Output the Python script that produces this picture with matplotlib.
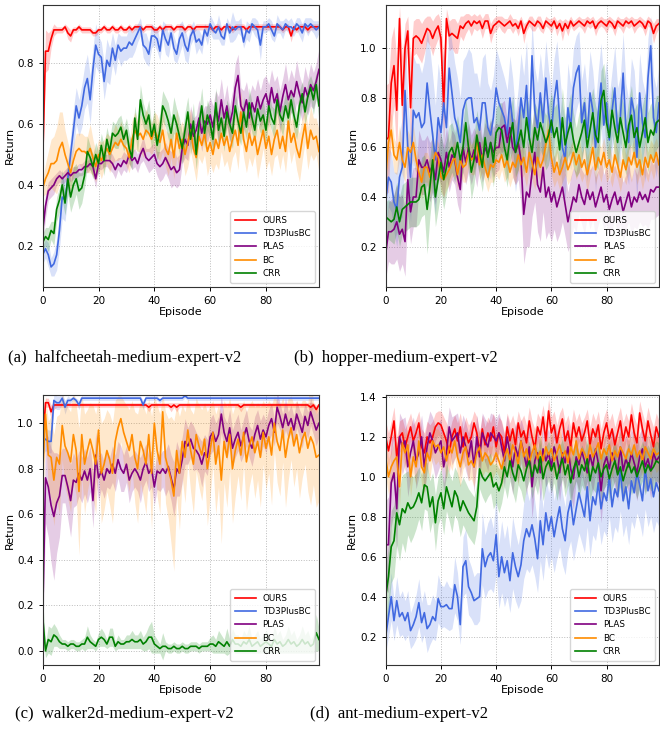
import matplotlib
matplotlib.use("Agg")
import matplotlib.pyplot as plt
import numpy as np

# episodes 0..99
episodes = list(range(100))
names = ["OURS", "TD3PlusBC", "PLAS", "BC", "CRR"]
colors = ["red", "royalblue", "purple", "darkorange", "green"]

# ---------------- (a) halfcheetah ----------------
ours_a = [0.48, 0.84, 0.84, 0.88, 0.91, 0.91, 0.91, 0.91, 0.92, 0.90,
          0.89, 0.91, 0.91, 0.92, 0.91, 0.91, 0.91, 0.91, 0.90, 0.90,
          0.91, 0.91, 0.92, 0.91, 0.91, 0.92, 0.91, 0.91, 0.92, 0.91,
          0.91, 0.92, 0.91, 0.92, 0.92, 0.92, 0.91, 0.92, 0.92, 0.92,
          0.91, 0.91, 0.92, 0.91, 0.92, 0.92, 0.92, 0.91, 0.92, 0.92,
          0.92, 0.91, 0.92, 0.92, 0.91, 0.92, 0.92, 0.92, 0.92, 0.92,
          0.92, 0.91, 0.92, 0.92, 0.91, 0.92, 0.92, 0.92, 0.91, 0.92,
          0.92, 0.92, 0.92, 0.91, 0.92, 0.92, 0.92, 0.92, 0.92, 0.92,
          0.92, 0.92, 0.92, 0.92, 0.92, 0.92, 0.91, 0.92, 0.92, 0.89,
          0.92, 0.91, 0.92, 0.92, 0.92, 0.91, 0.92, 0.92, 0.92, 0.92]
ours_a_sd = [0.05, 0.07, 0.06, 0.03, 0.02, 0.01, 0.01, 0.01, 0.01, 0.02,
             0.02, 0.01, 0.01, 0.01, 0.01, 0.01, 0.01, 0.01, 0.01, 0.01,
             0.01, 0.01, 0.01, 0.01, 0.01, 0.01, 0.01, 0.01, 0.01, 0.01,
             0.01, 0.01, 0.01, 0.01, 0.01, 0.01, 0.01, 0.01, 0.01, 0.01,
             0.01, 0.01, 0.01, 0.01, 0.01, 0.01, 0.01, 0.01, 0.01, 0.01,
             0.01, 0.01, 0.01, 0.01, 0.01, 0.01, 0.01, 0.01, 0.01, 0.01,
             0.01, 0.01, 0.01, 0.01, 0.01, 0.01, 0.01, 0.01, 0.01, 0.01,
             0.01, 0.01, 0.01, 0.01, 0.01, 0.01, 0.01, 0.01, 0.01, 0.01,
             0.01, 0.01, 0.01, 0.01, 0.01, 0.01, 0.01, 0.01, 0.01, 0.02,
             0.01, 0.01, 0.01, 0.01, 0.01, 0.01, 0.01, 0.01, 0.01, 0.01]
td3_a = [0.17, 0.19, 0.17, 0.13, 0.14, 0.17, 0.25, 0.36, 0.35, 0.42,
         0.50, 0.58, 0.66, 0.62, 0.66, 0.72, 0.75, 0.68, 0.78, 0.86,
         0.83, 0.82, 0.74, 0.81, 0.79, 0.85, 0.81, 0.86, 0.84, 0.85,
         0.85, 0.87, 0.86, 0.88, 0.90, 0.92, 0.86, 0.85, 0.83, 0.89,
         0.89, 0.88, 0.84, 0.91, 0.88, 0.86, 0.90, 0.85, 0.83, 0.88,
         0.90, 0.86, 0.84, 0.89, 0.91, 0.87, 0.88, 0.86, 0.91, 0.89,
         0.93, 0.91, 0.90, 0.92, 0.89, 0.88, 0.93, 0.90, 0.92, 0.91,
         0.92, 0.92, 0.87, 0.91, 0.90, 0.93, 0.92, 0.91, 0.86, 0.92,
         0.92, 0.93, 0.91, 0.89, 0.93, 0.92, 0.91, 0.93, 0.92, 0.92,
         0.91, 0.93, 0.92, 0.90, 0.93, 0.92, 0.93, 0.92, 0.91, 0.92]
td3_a_sd = [0.03, 0.03, 0.04, 0.03, 0.04, 0.05, 0.06, 0.07, 0.07, 0.06,
            0.06, 0.07, 0.06, 0.06, 0.07, 0.07, 0.08, 0.08, 0.07, 0.07,
            0.06, 0.05, 0.06, 0.07, 0.06, 0.05, 0.05, 0.04, 0.05, 0.04,
            0.04, 0.05, 0.04, 0.04, 0.03, 0.03, 0.04, 0.05, 0.04, 0.04,
            0.03, 0.04, 0.03, 0.03, 0.05, 0.04, 0.03, 0.04, 0.03, 0.05,
            0.04, 0.05, 0.04, 0.03, 0.03, 0.04, 0.03, 0.03, 0.02, 0.03,
            0.03, 0.03, 0.02, 0.04, 0.03, 0.02, 0.02, 0.03, 0.05, 0.03,
            0.02, 0.03, 0.02, 0.03, 0.03, 0.02, 0.03, 0.03, 0.05, 0.02,
            0.02, 0.02, 0.03, 0.02, 0.03, 0.02, 0.03, 0.02, 0.02, 0.03,
            0.02, 0.02, 0.03, 0.03, 0.02, 0.03, 0.02, 0.02, 0.03, 0.02]
plas_a = [0.25, 0.33, 0.38, 0.39, 0.40, 0.42, 0.43, 0.42, 0.43, 0.44,
          0.43, 0.44, 0.44, 0.45, 0.45, 0.46, 0.46, 0.47, 0.46, 0.42,
          0.47, 0.47, 0.48, 0.48, 0.48, 0.47, 0.45, 0.47, 0.46, 0.48,
          0.47, 0.50, 0.48, 0.49, 0.47, 0.50, 0.52, 0.49, 0.48, 0.49,
          0.50, 0.47, 0.46, 0.47, 0.49, 0.47, 0.45, 0.46, 0.44, 0.45,
          0.52, 0.55, 0.53, 0.60, 0.56, 0.58, 0.62, 0.57, 0.61, 0.60,
          0.63, 0.59, 0.65, 0.61, 0.68, 0.62, 0.66, 0.60, 0.64, 0.72,
          0.76, 0.66, 0.64, 0.68, 0.62, 0.67, 0.64, 0.69, 0.65, 0.68,
          0.70, 0.66, 0.72, 0.67, 0.70, 0.64, 0.69, 0.73, 0.68, 0.71,
          0.69, 0.74, 0.70, 0.67, 0.72, 0.69, 0.73, 0.71, 0.74, 0.78]
plas_a_sd = [0.04, 0.04, 0.03, 0.03, 0.03, 0.02, 0.02, 0.02, 0.02, 0.02,
             0.02, 0.02, 0.02, 0.02, 0.02, 0.02, 0.02, 0.02, 0.03, 0.03,
             0.02, 0.02, 0.02, 0.02, 0.03, 0.03, 0.03, 0.02, 0.03, 0.03,
             0.03, 0.03, 0.03, 0.03, 0.03, 0.03, 0.04, 0.03, 0.04, 0.04,
             0.04, 0.04, 0.05, 0.05, 0.05, 0.05, 0.06, 0.06, 0.05, 0.05,
             0.05, 0.06, 0.05, 0.06, 0.06, 0.05, 0.06, 0.06, 0.05, 0.06,
             0.06, 0.07, 0.06, 0.08, 0.07, 0.06, 0.07, 0.06, 0.07, 0.08,
             0.07, 0.06, 0.07, 0.06, 0.07, 0.06, 0.07, 0.06, 0.06, 0.07,
             0.06, 0.07, 0.06, 0.07, 0.06, 0.07, 0.06, 0.07, 0.06, 0.07,
             0.06, 0.07, 0.06, 0.06, 0.07, 0.06, 0.07, 0.06, 0.06, 0.07]
bc_a = [0.39, 0.42, 0.44, 0.47, 0.47, 0.48, 0.52, 0.54, 0.50, 0.47,
        0.44, 0.48, 0.51, 0.52, 0.51, 0.51, 0.50, 0.52, 0.49, 0.46,
        0.50, 0.48, 0.50, 0.52, 0.50, 0.52, 0.54, 0.53, 0.55, 0.53,
        0.52, 0.49, 0.55, 0.58, 0.56, 0.57, 0.55, 0.58, 0.57, 0.55,
        0.58, 0.56, 0.54, 0.58, 0.52, 0.50, 0.55, 0.49, 0.57, 0.52,
        0.55, 0.50, 0.54, 0.58, 0.52, 0.49, 0.56, 0.53, 0.57, 0.51,
        0.54, 0.50, 0.55, 0.52, 0.57, 0.53, 0.56, 0.51, 0.55, 0.58,
        0.53, 0.64, 0.55, 0.51, 0.57, 0.53, 0.56, 0.50, 0.54, 0.58,
        0.52, 0.56, 0.50, 0.55, 0.58, 0.52, 0.56, 0.51, 0.61, 0.54,
        0.57, 0.52, 0.49, 0.55, 0.60, 0.52, 0.58, 0.55, 0.56, 0.51]
bc_a_sd = [0.03, 0.05, 0.07, 0.08, 0.09, 0.11, 0.12, 0.10, 0.08, 0.07,
           0.06, 0.05, 0.06, 0.05, 0.06, 0.05, 0.06, 0.08, 0.06, 0.05,
           0.05, 0.06, 0.05, 0.05, 0.06, 0.05, 0.06, 0.05, 0.06, 0.05,
           0.06, 0.05, 0.06, 0.06, 0.05, 0.06, 0.06, 0.07, 0.06, 0.05,
           0.06, 0.07, 0.06, 0.07, 0.06, 0.07, 0.06, 0.07, 0.08, 0.07,
           0.06, 0.07, 0.08, 0.07, 0.06, 0.08, 0.07, 0.06, 0.07, 0.08,
           0.07, 0.06, 0.08, 0.07, 0.06, 0.07, 0.08, 0.07, 0.06, 0.07,
           0.08, 0.07, 0.06, 0.07, 0.08, 0.07, 0.06, 0.08, 0.07, 0.06,
           0.07, 0.08, 0.07, 0.06, 0.08, 0.07, 0.06, 0.07, 0.08, 0.07,
           0.06, 0.07, 0.08, 0.07, 0.06, 0.07, 0.08, 0.07, 0.06, 0.07]
crr_a = [0.21, 0.23, 0.22, 0.25, 0.24, 0.32, 0.35, 0.40, 0.34, 0.42,
         0.36, 0.40, 0.42, 0.38, 0.39, 0.43, 0.51, 0.49, 0.46, 0.50,
         0.47, 0.53, 0.48, 0.55, 0.51, 0.57, 0.56, 0.57, 0.59, 0.55,
         0.58, 0.52, 0.49, 0.62, 0.55, 0.68, 0.63, 0.60, 0.63, 0.56,
         0.60, 0.53, 0.58, 0.66, 0.64, 0.61, 0.57, 0.63, 0.60, 0.56,
         0.52, 0.58, 0.64, 0.55, 0.61, 0.50, 0.60, 0.66, 0.57, 0.63,
         0.60, 0.55, 0.67, 0.58, 0.62, 0.56, 0.64, 0.60, 0.57, 0.66,
         0.61, 0.57, 0.64, 0.59, 0.67, 0.62, 0.58, 0.65, 0.61, 0.63,
         0.58, 0.66, 0.62, 0.60, 0.68, 0.63, 0.61, 0.66, 0.62, 0.68,
         0.63, 0.59, 0.66, 0.70, 0.64, 0.69, 0.72, 0.68, 0.73, 0.66]
crr_a_sd = [0.03, 0.03, 0.04, 0.03, 0.04, 0.04, 0.04, 0.05, 0.04, 0.05,
            0.05, 0.06, 0.05, 0.06, 0.05, 0.04, 0.05, 0.04, 0.04, 0.04,
            0.04, 0.04, 0.05, 0.04, 0.04, 0.04, 0.04, 0.05, 0.04, 0.04,
            0.04, 0.05, 0.04, 0.04, 0.05, 0.05, 0.04, 0.04, 0.05, 0.04,
            0.05, 0.05, 0.06, 0.05, 0.05, 0.06, 0.05, 0.06, 0.05, 0.06,
            0.05, 0.06, 0.05, 0.05, 0.06, 0.05, 0.05, 0.06, 0.05, 0.05,
            0.05, 0.04, 0.05, 0.05, 0.04, 0.05, 0.04, 0.05, 0.05, 0.04,
            0.05, 0.04, 0.05, 0.04, 0.05, 0.05, 0.04, 0.05, 0.04, 0.05,
            0.04, 0.05, 0.04, 0.05, 0.04, 0.04, 0.05, 0.04, 0.05, 0.04,
            0.05, 0.04, 0.05, 0.04, 0.04, 0.05, 0.04, 0.05, 0.04, 0.05]

# ---------------- (b) hopper ----------------
ours_b = [0.63, 0.64, 0.86, 0.93, 0.75, 1.12, 0.77, 1.00, 1.07, 0.76,
          1.04, 1.05, 1.04, 1.02, 1.05, 1.08, 1.07, 1.04, 1.07, 1.09,
          1.04, 0.76, 1.12, 1.05, 1.06, 1.05, 1.04, 1.09, 1.08, 1.10,
          1.11, 1.09, 1.11, 1.10, 1.11, 1.08, 1.11, 1.11, 1.06, 1.09,
          1.10, 1.11, 1.10, 1.09, 1.10, 1.11, 1.09, 1.10, 1.08, 1.11,
          1.06, 1.09, 1.11, 1.10, 1.09, 1.11, 1.10, 1.08, 1.11, 1.10,
          1.09, 1.11, 1.08, 1.10, 1.07, 1.10, 1.08, 1.11, 1.09, 1.10,
          1.11, 1.10, 1.09, 1.11, 1.10, 1.11, 1.08, 1.10, 1.11, 1.10,
          1.09, 1.11, 1.10, 1.08, 1.11, 1.10, 1.09, 1.11, 1.10, 1.11,
          1.09, 1.10, 1.11, 1.10, 1.08, 1.11, 1.10, 1.06, 1.09, 1.10]
ours_b_sd = [0.22, 0.22, 0.18, 0.16, 0.20, 0.05, 0.20, 0.10, 0.06, 0.20,
             0.07, 0.07, 0.08, 0.08, 0.07, 0.05, 0.06, 0.07, 0.06, 0.05,
             0.07, 0.20, 0.04, 0.06, 0.06, 0.07, 0.06, 0.04, 0.05, 0.04,
             0.03, 0.04, 0.03, 0.03, 0.03, 0.04, 0.03, 0.03, 0.04, 0.03,
             0.03, 0.02, 0.03, 0.03, 0.02, 0.03, 0.03, 0.02, 0.03, 0.02,
             0.04, 0.02, 0.02, 0.03, 0.02, 0.02, 0.03, 0.02, 0.02, 0.02,
             0.03, 0.02, 0.03, 0.02, 0.04, 0.02, 0.03, 0.02, 0.02, 0.02,
             0.02, 0.02, 0.03, 0.02, 0.02, 0.02, 0.03, 0.02, 0.02, 0.02,
             0.03, 0.02, 0.02, 0.03, 0.02, 0.02, 0.03, 0.02, 0.02, 0.02,
             0.03, 0.02, 0.02, 0.02, 0.03, 0.02, 0.02, 0.04, 0.03, 0.02]
td3_b = [0.38, 0.48, 0.46, 0.38, 0.35, 0.48, 0.52, 0.83, 0.60, 0.48,
         0.75, 0.72, 0.74, 0.68, 0.70, 0.86, 0.75, 0.65, 0.55, 0.72,
         0.66, 0.78, 0.68, 0.92, 0.82, 0.72, 0.68, 0.62, 0.75, 0.79,
         0.80, 0.80, 0.70, 0.72, 0.67, 0.78, 0.78, 0.68, 0.65, 0.72,
         0.84, 0.78, 0.75, 0.72, 0.65, 0.80, 0.70, 0.58, 0.67, 0.80,
         0.72, 0.85, 0.63, 0.97, 0.75, 0.68, 0.82, 0.70, 0.88, 0.74,
         0.66, 0.79, 0.87, 0.72, 0.60, 0.55, 0.76, 0.68, 0.84, 0.90,
         0.93, 0.70, 0.78, 0.64, 0.82, 0.75, 0.60, 0.74, 0.86, 0.69,
         0.78, 0.63, 0.75, 0.84, 0.66, 0.72, 0.90, 0.68, 0.62, 0.80,
         0.74, 0.56, 0.82, 0.70, 0.64, 0.88, 1.01, 0.72, 0.66, 0.78]
td3_b_sd = [0.10, 0.12, 0.12, 0.12, 0.15, 0.18, 0.20, 0.25, 0.20, 0.18,
            0.22, 0.22, 0.20, 0.22, 0.25, 0.22, 0.25, 0.24, 0.22, 0.22,
            0.20, 0.22, 0.20, 0.18, 0.20, 0.22, 0.20, 0.18, 0.20, 0.18,
            0.20, 0.18, 0.20, 0.18, 0.17, 0.18, 0.20, 0.18, 0.18, 0.17,
            0.16, 0.18, 0.17, 0.16, 0.18, 0.17, 0.18, 0.16, 0.17, 0.18,
            0.17, 0.18, 0.16, 0.14, 0.17, 0.18, 0.16, 0.17, 0.15, 0.17,
            0.18, 0.17, 0.16, 0.18, 0.17, 0.16, 0.18, 0.17, 0.16, 0.15,
            0.14, 0.17, 0.16, 0.18, 0.17, 0.16, 0.18, 0.17, 0.16, 0.18,
            0.17, 0.18, 0.16, 0.17, 0.18, 0.17, 0.16, 0.18, 0.17, 0.16,
            0.17, 0.18, 0.16, 0.17, 0.18, 0.16, 0.12, 0.17, 0.18, 0.16]
plas_b = [0.17, 0.26, 0.26, 0.27, 0.30, 0.25, 0.27, 0.22, 0.47, 0.34,
          0.40, 0.40, 0.55, 0.52, 0.52, 0.55, 0.50, 0.53, 0.47, 0.58,
          0.55, 0.50, 0.58, 0.52, 0.57, 0.55, 0.48, 0.43, 0.60, 0.54,
          0.60, 0.55, 0.59, 0.54, 0.62, 0.55, 0.60, 0.57, 0.62, 0.58,
          0.60, 0.60, 0.68, 0.69, 0.62, 0.68, 0.60, 0.58, 0.62, 0.55,
          0.33, 0.42, 0.40, 0.50, 0.58, 0.45, 0.42, 0.52, 0.40, 0.44,
          0.38, 0.42, 0.36, 0.40, 0.44, 0.37, 0.30, 0.35, 0.40, 0.38,
          0.45, 0.40, 0.37, 0.43, 0.39, 0.42, 0.36, 0.40, 0.44, 0.38,
          0.41, 0.35, 0.39, 0.42, 0.37, 0.40, 0.34, 0.38, 0.42, 0.36,
          0.40, 0.38, 0.42, 0.39, 0.41, 0.38, 0.43, 0.42, 0.44, 0.44]
plas_b_sd = [0.10, 0.12, 0.13, 0.14, 0.15, 0.15, 0.14, 0.14, 0.14, 0.13,
             0.12, 0.12, 0.12, 0.11, 0.11, 0.10, 0.12, 0.11, 0.10, 0.10,
             0.10, 0.11, 0.10, 0.10, 0.10, 0.10, 0.11, 0.10, 0.10, 0.09,
             0.10, 0.10, 0.09, 0.10, 0.10, 0.09, 0.10, 0.10, 0.09, 0.10,
             0.10, 0.09, 0.10, 0.10, 0.09, 0.10, 0.12, 0.13, 0.15, 0.18,
             0.20, 0.22, 0.20, 0.18, 0.20, 0.19, 0.20, 0.18, 0.17, 0.18,
             0.16, 0.15, 0.14, 0.15, 0.14, 0.13, 0.12, 0.13, 0.12, 0.12,
             0.12, 0.11, 0.12, 0.11, 0.12, 0.11, 0.12, 0.11, 0.12, 0.11,
             0.12, 0.11, 0.12, 0.11, 0.12, 0.11, 0.12, 0.11, 0.12, 0.11,
             0.12, 0.11, 0.12, 0.11, 0.12, 0.11, 0.12, 0.11, 0.12, 0.11]
bc_b = [0.48, 0.62, 0.67, 0.57, 0.55, 0.62, 0.55, 0.52, 0.60, 0.58,
        0.62, 0.55, 0.50, 0.46, 0.52, 0.52, 0.48, 0.53, 0.58, 0.56,
        0.48, 0.47, 0.49, 0.51, 0.54, 0.56, 0.49, 0.55, 0.52, 0.53,
        0.58, 0.55, 0.56, 0.62, 0.53, 0.57, 0.52, 0.48, 0.53, 0.52,
        0.55, 0.54, 0.57, 0.52, 0.55, 0.50, 0.54, 0.52, 0.57, 0.53,
        0.56, 0.50, 0.58, 0.54, 0.49, 0.56, 0.52, 0.55, 0.61, 0.67,
        0.56, 0.50, 0.54, 0.49, 0.52, 0.56, 0.51, 0.54, 0.58, 0.53,
        0.57, 0.52, 0.55, 0.49, 0.54, 0.60, 0.51, 0.56, 0.53, 0.58,
        0.52, 0.55, 0.50, 0.57, 0.53, 0.48, 0.55, 0.51, 0.56, 0.53,
        0.58, 0.52, 0.55, 0.49, 0.56, 0.52, 0.57, 0.54, 0.58, 0.53]
bc_b_sd = [0.08, 0.08, 0.07, 0.07, 0.06, 0.07, 0.06, 0.06, 0.07, 0.06,
           0.07, 0.06, 0.06, 0.07, 0.06, 0.06, 0.07, 0.06, 0.06, 0.06,
           0.06, 0.07, 0.06, 0.06, 0.06, 0.07, 0.06, 0.06, 0.06, 0.07,
           0.06, 0.06, 0.07, 0.06, 0.06, 0.07, 0.06, 0.06, 0.07, 0.06,
           0.06, 0.07, 0.06, 0.06, 0.07, 0.06, 0.06, 0.07, 0.06, 0.06,
           0.07, 0.06, 0.06, 0.07, 0.06, 0.07, 0.06, 0.06, 0.07, 0.08,
           0.07, 0.06, 0.07, 0.06, 0.06, 0.07, 0.06, 0.07, 0.06, 0.06,
           0.07, 0.06, 0.06, 0.07, 0.06, 0.07, 0.06, 0.06, 0.07, 0.06,
           0.06, 0.07, 0.06, 0.07, 0.06, 0.06, 0.07, 0.06, 0.06, 0.07,
           0.06, 0.07, 0.06, 0.06, 0.07, 0.06, 0.06, 0.07, 0.06, 0.06]
crr_b = [0.32, 0.31, 0.30, 0.31, 0.36, 0.30, 0.35, 0.36, 0.37, 0.38,
         0.38, 0.38, 0.39, 0.44, 0.45, 0.35, 0.44, 0.55, 0.40, 0.47,
         0.54, 0.47, 0.52, 0.58, 0.60, 0.56, 0.62, 0.55, 0.60, 0.70,
         0.60, 0.50, 0.55, 0.65, 0.58, 0.52, 0.64, 0.56, 0.62, 0.54,
         0.66, 0.68, 0.67, 0.60, 0.55, 0.64, 0.70, 0.58, 0.62, 0.67,
         0.60, 0.72, 0.64, 0.58, 0.68, 0.63, 0.70, 0.66, 0.62, 0.65,
         0.71, 0.64, 0.68, 0.59, 0.72, 0.61, 0.66, 0.70, 0.63, 0.58,
         0.62, 0.66, 0.71, 0.60, 0.67, 0.74, 0.65, 0.62, 0.79, 0.83,
         0.70, 0.64, 0.75, 0.68, 0.62, 0.72, 0.66, 0.60, 0.69, 0.73,
         0.64, 0.68, 0.60, 0.66, 0.72, 0.62, 0.67, 0.65, 0.70, 0.71]
crr_b_sd = [0.06, 0.08, 0.08, 0.10, 0.10, 0.10, 0.10, 0.10, 0.10, 0.10,
            0.10, 0.10, 0.10, 0.12, 0.12, 0.18, 0.12, 0.12, 0.12, 0.12,
            0.12, 0.12, 0.11, 0.11, 0.10, 0.10, 0.11, 0.10, 0.10, 0.10,
            0.10, 0.11, 0.10, 0.10, 0.10, 0.10, 0.11, 0.10, 0.10, 0.10,
            0.10, 0.10, 0.11, 0.10, 0.11, 0.10, 0.11, 0.10, 0.11, 0.10,
            0.11, 0.10, 0.12, 0.11, 0.10, 0.12, 0.11, 0.10, 0.11, 0.12,
            0.11, 0.12, 0.10, 0.11, 0.12, 0.11, 0.10, 0.12, 0.11, 0.10,
            0.12, 0.11, 0.10, 0.12, 0.11, 0.10, 0.12, 0.11, 0.12, 0.11,
            0.12, 0.11, 0.10, 0.12, 0.11, 0.10, 0.12, 0.11, 0.10, 0.12,
            0.11, 0.10, 0.12, 0.11, 0.10, 0.12, 0.11, 0.10, 0.11, 0.10]

# ---------------- (c) walker2d ----------------
ours_c = [0.90, 1.09, 1.09, 1.05, 1.08, 1.08, 1.08, 1.08, 1.08, 1.08,
          1.08, 1.08, 1.08, 1.08, 1.08, 1.08, 1.08, 1.08, 1.08, 1.08,
          1.08, 1.08, 1.08, 1.08, 1.08, 1.08, 1.08, 1.08, 1.08, 1.08,
          1.08, 1.08, 1.08, 1.08, 1.08, 1.08, 1.08, 1.08, 1.07, 1.08,
          1.08, 1.08, 1.08, 1.08, 1.08, 1.08, 1.07, 1.08, 1.07, 1.08,
          1.08, 1.08, 1.08, 1.08, 1.08, 1.08, 1.08, 1.08, 1.08, 1.08,
          1.08, 1.08, 1.08, 1.08, 1.08, 1.08, 1.08, 1.08, 1.08, 1.08,
          1.08, 1.07, 1.08, 1.08, 1.08, 1.08, 1.08, 1.08, 1.08, 1.08,
          1.08, 1.08, 1.08, 1.08, 1.08, 1.08, 1.08, 1.08, 1.08, 1.08,
          1.08, 1.08, 1.08, 1.08, 1.08, 1.08, 1.07, 1.08, 1.06, 1.08]
ours_c_sd = [0.10, 0.02, 0.02, 0.03, 0.02, 0.01, 0.01, 0.01, 0.01, 0.01,
             0.01, 0.01, 0.01, 0.01, 0.01, 0.01, 0.01, 0.01, 0.01, 0.01,
             0.01, 0.01, 0.01, 0.01, 0.01, 0.01, 0.01, 0.01, 0.01, 0.01,
             0.01, 0.01, 0.01, 0.01, 0.01, 0.01, 0.01, 0.01, 0.02, 0.01,
             0.01, 0.01, 0.01, 0.01, 0.01, 0.01, 0.02, 0.01, 0.02, 0.01,
             0.01, 0.01, 0.01, 0.01, 0.01, 0.01, 0.01, 0.01, 0.01, 0.01,
             0.01, 0.01, 0.01, 0.01, 0.01, 0.01, 0.01, 0.01, 0.01, 0.01,
             0.01, 0.02, 0.01, 0.01, 0.01, 0.01, 0.01, 0.01, 0.01, 0.01,
             0.01, 0.01, 0.01, 0.01, 0.01, 0.01, 0.01, 0.01, 0.01, 0.01,
             0.01, 0.01, 0.01, 0.01, 0.01, 0.01, 0.02, 0.01, 0.02, 0.01]
td3_c = [0.92, 0.93, 0.92, 0.92, 1.10, 1.09, 1.09, 1.11, 1.07, 1.10,
         1.10, 1.11, 1.10, 1.08, 1.11, 1.11, 1.11, 1.11, 1.11, 1.11,
         1.11, 1.11, 1.11, 1.11, 1.11, 1.11, 1.11, 1.11, 1.11, 1.11,
         1.11, 1.11, 1.11, 1.11, 1.11, 1.11, 1.08, 1.11, 1.11, 1.11,
         1.11, 1.11, 1.10, 1.11, 1.11, 1.11, 1.11, 1.11, 1.11, 1.11,
         1.11, 1.12, 1.11, 1.11, 1.11, 1.11, 1.11, 1.11, 1.11, 1.11,
         1.11, 1.11, 1.11, 1.11, 1.11, 1.11, 1.11, 1.11, 1.11, 1.11,
         1.11, 1.11, 1.11, 1.11, 1.11, 1.11, 1.11, 1.11, 1.11, 1.11,
         1.11, 1.11, 1.11, 1.11, 1.11, 1.11, 1.11, 1.11, 1.11, 1.11,
         1.11, 1.11, 1.11, 1.11, 1.11, 1.11, 1.11, 1.11, 1.11, 1.11]
td3_c_sd = [0.06, 0.05, 0.05, 0.05, 0.03, 0.03, 0.03, 0.02, 0.03, 0.02,
            0.01, 0.01, 0.01, 0.02, 0.01, 0.01, 0.01, 0.01, 0.01, 0.01,
            0.01, 0.01, 0.01, 0.01, 0.01, 0.01, 0.01, 0.01, 0.01, 0.01,
            0.01, 0.01, 0.01, 0.01, 0.01, 0.01, 0.02, 0.01, 0.01, 0.01,
            0.01, 0.01, 0.01, 0.01, 0.01, 0.01, 0.01, 0.01, 0.01, 0.01,
            0.01, 0.01, 0.01, 0.01, 0.01, 0.01, 0.01, 0.01, 0.01, 0.01,
            0.01, 0.01, 0.01, 0.01, 0.01, 0.01, 0.01, 0.01, 0.01, 0.01,
            0.01, 0.01, 0.01, 0.01, 0.01, 0.01, 0.01, 0.01, 0.01, 0.01,
            0.01, 0.01, 0.01, 0.01, 0.01, 0.01, 0.01, 0.01, 0.01, 0.01,
            0.01, 0.01, 0.01, 0.01, 0.01, 0.01, 0.01, 0.01, 0.01, 0.01]
plas_c = [0.15, 0.76, 0.72, 0.64, 0.59, 0.65, 0.68, 0.77, 0.77, 0.72,
          0.66, 0.75, 0.74, 0.78, 0.75, 0.79, 0.75, 0.80, 0.66, 0.86,
          0.76, 0.79, 0.75, 0.80, 0.78, 0.82, 0.78, 0.84, 0.80, 0.78,
          0.82, 0.75, 0.78, 0.80, 0.78, 0.75, 0.80, 0.83, 0.78, 0.80,
          0.72, 0.79, 0.78, 0.80, 0.78, 0.81, 0.76, 0.71, 0.80, 0.78,
          0.84, 0.92, 0.90, 0.93, 0.89, 0.88, 0.86, 0.82, 0.87, 0.85,
          0.94, 0.96, 0.92, 0.95, 1.04, 0.96, 0.92, 0.98, 0.89, 0.93,
          0.96, 0.90, 0.94, 0.98, 0.92, 0.89, 0.95, 0.99, 0.93, 0.97,
          0.94, 0.99, 1.02, 0.96, 1.07, 1.03, 0.98, 1.04, 0.99, 1.02,
          0.97, 1.04, 1.00, 0.96, 1.03, 0.99, 1.05, 1.01, 0.97, 1.00]
plas_c_sd = [0.10, 0.20, 0.22, 0.25, 0.28, 0.22, 0.18, 0.12, 0.12, 0.14,
             0.16, 0.12, 0.10, 0.10, 0.10, 0.10, 0.10, 0.10, 0.12, 0.10,
             0.10, 0.08, 0.08, 0.08, 0.07, 0.08, 0.08, 0.08, 0.10, 0.08,
             0.08, 0.10, 0.08, 0.08, 0.08, 0.10, 0.08, 0.08, 0.08, 0.08,
             0.08, 0.08, 0.08, 0.08, 0.10, 0.10, 0.10, 0.12, 0.12, 0.10,
             0.10, 0.10, 0.08, 0.08, 0.10, 0.08, 0.08, 0.10, 0.08, 0.08,
             0.08, 0.08, 0.08, 0.08, 0.08, 0.07, 0.08, 0.08, 0.08, 0.08,
             0.08, 0.07, 0.08, 0.08, 0.07, 0.08, 0.08, 0.07, 0.08, 0.07,
             0.07, 0.07, 0.07, 0.06, 0.07, 0.06, 0.06, 0.07, 0.06, 0.06,
             0.06, 0.06, 0.06, 0.07, 0.06, 0.06, 0.06, 0.06, 0.07, 0.06]
bc_c = [0.78, 1.04, 0.86, 0.85, 0.75, 0.85, 0.82, 0.99, 0.90, 0.87,
        0.83, 0.95, 0.88, 0.70, 0.95, 0.82, 0.88, 0.93, 0.88, 0.82,
        0.97, 0.78, 0.82, 0.88, 0.84, 0.78, 0.92, 0.98, 1.02, 0.96,
        0.92, 0.88, 0.95, 0.85, 0.80, 0.92, 0.88, 0.82, 0.95, 0.78,
        1.00, 0.88, 0.82, 1.05, 0.85, 0.80, 0.75, 0.68, 0.88, 0.78,
        0.92, 0.85, 0.97, 0.88, 0.82, 0.95, 0.90, 0.86, 0.93, 0.80,
        0.88, 0.96, 0.82, 0.90, 0.75, 0.92, 0.85, 0.95, 0.80, 0.88,
        0.93, 0.86, 0.96, 0.83, 0.90, 0.94, 0.87, 0.92, 0.85, 0.96,
        0.89, 0.94, 0.86, 1.00, 0.92, 0.88, 0.97, 0.85, 0.93, 0.98,
        0.90, 0.95, 0.87, 0.93, 0.96, 0.89, 0.94, 0.91, 0.85, 0.86]
bc_c_sd = [0.20, 0.08, 0.15, 0.18, 0.20, 0.18, 0.22, 0.15, 0.18, 0.20,
           0.22, 0.20, 0.20, 0.28, 0.18, 0.22, 0.18, 0.16, 0.20, 0.22,
           0.14, 0.22, 0.20, 0.18, 0.20, 0.22, 0.18, 0.14, 0.10, 0.14,
           0.16, 0.18, 0.15, 0.20, 0.24, 0.18, 0.20, 0.22, 0.16, 0.25,
           0.12, 0.20, 0.22, 0.08, 0.20, 0.22, 0.28, 0.33, 0.20, 0.25,
           0.16, 0.20, 0.14, 0.18, 0.22, 0.16, 0.18, 0.20, 0.16, 0.25,
           0.20, 0.14, 0.22, 0.18, 0.28, 0.18, 0.22, 0.16, 0.24, 0.20,
           0.16, 0.20, 0.14, 0.22, 0.18, 0.16, 0.20, 0.17, 0.22, 0.14,
           0.18, 0.16, 0.22, 0.12, 0.18, 0.20, 0.14, 0.22, 0.18, 0.14,
           0.18, 0.15, 0.20, 0.17, 0.14, 0.19, 0.30, 0.18, 0.22, 0.20]
crr_c = [0.15, 0.00, 0.05, 0.04, 0.07, 0.06, 0.04, 0.03, 0.03, 0.02,
         0.03, 0.03, 0.02, 0.02, 0.03, 0.03, 0.06, 0.04, 0.03, 0.02,
         0.05, 0.06, 0.05, 0.03, 0.06, 0.06, 0.02, 0.04, 0.03, 0.03,
         0.04, 0.04, 0.05, 0.04, 0.04, 0.05, 0.03, 0.04, 0.06, 0.06,
         0.03, 0.02, 0.01, 0.02, 0.02, 0.01, 0.01, 0.02, 0.01, 0.01,
         0.02, 0.01, 0.01, 0.02, 0.02, 0.02, 0.01, 0.02, 0.02, 0.02,
         0.03, 0.03, 0.02, 0.04, 0.03, 0.02, 0.04, 0.02, 0.05, 0.03,
         0.03, 0.02, 0.04, 0.03, 0.05, 0.02, 0.03, 0.04, 0.02, 0.03,
         0.04, 0.03, 0.02, 0.05, 0.03, 0.04, 0.02, 0.03, 0.05, 0.03,
         0.04, 0.02, 0.03, 0.05, 0.03, 0.04, 0.02, 0.03, 0.08, 0.05]
crr_c_sd = [0.08, 0.03, 0.06, 0.06, 0.05, 0.04, 0.03, 0.02, 0.02, 0.02,
            0.02, 0.02, 0.02, 0.02, 0.02, 0.03, 0.05, 0.03, 0.02, 0.02,
            0.03, 0.04, 0.03, 0.02, 0.04, 0.04, 0.02, 0.03, 0.02, 0.02,
            0.03, 0.03, 0.04, 0.03, 0.03, 0.04, 0.03, 0.04, 0.05, 0.07,
            0.04, 0.03, 0.02, 0.06, 0.02, 0.02, 0.02, 0.02, 0.02, 0.02,
            0.02, 0.02, 0.02, 0.02, 0.02, 0.02, 0.02, 0.02, 0.02, 0.02,
            0.03, 0.04, 0.03, 0.05, 0.04, 0.03, 0.06, 0.03, 0.05, 0.04,
            0.04, 0.03, 0.05, 0.04, 0.06, 0.03, 0.04, 0.05, 0.03, 0.04,
            0.05, 0.04, 0.03, 0.06, 0.04, 0.05, 0.03, 0.04, 0.06, 0.04,
            0.05, 0.03, 0.04, 0.06, 0.04, 0.05, 0.03, 0.04, 0.08, 0.05]

# ---------------- (d) ant ----------------
ours_d = [1.20, 1.13, 1.20, 1.28, 1.10, 1.20, 1.22, 1.15, 1.20, 1.25,
          1.18, 1.22, 1.27, 1.15, 1.12, 1.20, 1.17, 1.20, 1.25, 1.27,
          1.26, 1.22, 1.18, 1.12, 1.20, 1.24, 1.18, 1.25, 1.15, 1.22,
          1.17, 1.20, 1.27, 1.22, 1.12, 1.24, 1.16, 1.22, 1.18, 1.25,
          1.15, 1.22, 1.20, 1.12, 1.25, 1.18, 1.24, 1.16, 1.27, 1.20,
          1.23, 1.17, 1.28, 1.20, 1.14, 1.25, 1.21, 1.30, 1.18, 1.33,
          1.22, 1.26, 1.17, 1.24, 1.29, 1.18, 1.23, 1.15, 1.27, 1.20,
          1.25, 1.18, 1.22, 1.28, 1.16, 1.24, 1.20, 1.26, 1.14, 1.22,
          1.27, 1.19, 1.24, 1.16, 1.22, 1.28, 1.18, 1.25, 1.20, 1.31,
          1.22, 1.17, 1.32, 1.24, 1.18, 1.28, 1.21, 1.15, 1.25, 1.20]
ours_d_sd = [0.08, 0.09, 0.08, 0.07, 0.10, 0.08, 0.07, 0.09, 0.08, 0.07,
             0.08, 0.07, 0.06, 0.09, 0.10, 0.08, 0.09, 0.08, 0.07, 0.06,
             0.07, 0.08, 0.09, 0.10, 0.08, 0.07, 0.09, 0.07, 0.09, 0.08,
             0.09, 0.08, 0.06, 0.08, 0.10, 0.07, 0.09, 0.08, 0.09, 0.07,
             0.09, 0.08, 0.08, 0.10, 0.07, 0.09, 0.07, 0.09, 0.06, 0.08,
             0.08, 0.09, 0.07, 0.08, 0.10, 0.07, 0.08, 0.06, 0.09, 0.06,
             0.08, 0.07, 0.09, 0.08, 0.06, 0.09, 0.08, 0.10, 0.07, 0.08,
             0.07, 0.09, 0.08, 0.06, 0.09, 0.08, 0.08, 0.07, 0.10, 0.08,
             0.07, 0.09, 0.08, 0.09, 0.08, 0.07, 0.09, 0.07, 0.08, 0.06,
             0.08, 0.09, 0.06, 0.08, 0.09, 0.07, 0.08, 0.10, 0.07, 0.08]
td3_d = [0.20, 0.30, 0.40, 0.28, 0.38, 0.30, 0.32, 0.28, 0.32, 0.23,
         0.26, 0.30, 0.37, 0.27, 0.32, 0.24, 0.26, 0.30, 0.28, 0.39,
         0.35, 0.35, 0.36, 0.34, 0.34, 0.46, 0.40, 0.26, 0.55, 0.58,
         0.45, 0.42, 0.38, 0.39, 0.40, 0.64, 0.55, 0.60, 0.62, 0.58,
         0.71, 0.50, 0.60, 0.52, 0.58, 0.48, 0.62, 0.55, 0.50, 0.56,
         0.68, 0.74, 0.70, 0.76, 0.69, 0.59, 0.78, 0.66, 0.82, 0.73,
         0.80, 0.70, 0.78, 0.85, 0.74, 0.68, 0.82, 0.88, 0.76, 0.84,
         0.92, 0.86, 0.80, 0.95, 0.78, 0.90, 0.86, 0.97, 0.84, 0.92,
         0.88, 1.00, 0.85, 0.94, 0.90, 1.03, 0.88, 0.95, 0.84, 0.98,
         0.92, 1.02, 0.96, 0.88, 1.04, 0.93, 0.99, 0.90, 0.97, 0.93]
td3_d_sd = [0.08, 0.10, 0.12, 0.10, 0.12, 0.10, 0.11, 0.10, 0.11, 0.09,
            0.10, 0.11, 0.12, 0.10, 0.11, 0.12, 0.10, 0.11, 0.10, 0.12,
            0.11, 0.10, 0.12, 0.11, 0.10, 0.14, 0.12, 0.10, 0.15, 0.16,
            0.14, 0.13, 0.12, 0.13, 0.12, 0.18, 0.16, 0.17, 0.18, 0.16,
            0.20, 0.16, 0.18, 0.17, 0.18, 0.16, 0.18, 0.17, 0.16, 0.18,
            0.19, 0.20, 0.18, 0.20, 0.19, 0.17, 0.20, 0.18, 0.20, 0.19,
            0.20, 0.18, 0.19, 0.20, 0.18, 0.17, 0.19, 0.20, 0.18, 0.19,
            0.20, 0.19, 0.18, 0.20, 0.18, 0.19, 0.18, 0.20, 0.18, 0.19,
            0.18, 0.20, 0.18, 0.19, 0.18, 0.20, 0.18, 0.19, 0.18, 0.20,
            0.18, 0.20, 0.19, 0.18, 0.20, 0.18, 0.19, 0.18, 0.19, 0.18]
plas_d = [0.66, 0.66, 0.97, 1.02, 0.84, 1.20, 1.15, 1.18, 1.05, 1.12,
          1.18, 1.08, 1.12, 1.20, 1.05, 1.15, 1.22, 1.18, 1.12, 1.15,
          1.18, 1.05, 1.12, 1.25, 1.18, 1.20, 1.22, 1.12, 1.20, 1.15,
          1.10, 1.18, 1.05, 1.20, 1.10, 1.22, 1.18, 1.15, 1.22, 1.20,
          1.18, 1.22, 1.15, 1.08, 1.20, 1.12, 1.05, 1.15, 1.10, 1.18,
          1.12, 1.05, 1.15, 0.95, 1.08, 1.12, 1.02, 1.14, 1.08, 1.12,
          1.05, 1.15, 1.10, 1.02, 1.12, 1.07, 1.15, 1.04, 0.99, 1.10,
          1.06, 1.13, 1.08, 1.02, 1.11, 1.05, 1.14, 1.07, 0.93, 1.06,
          1.10, 1.04, 1.12, 1.08, 1.02, 1.15, 1.03, 1.09, 1.05, 1.12,
          1.07, 1.02, 1.10, 1.14, 1.05, 1.09, 1.03, 1.12, 1.08, 1.10]
plas_d_sd = [0.22, 0.24, 0.22, 0.20, 0.22, 0.12, 0.14, 0.12, 0.15, 0.13,
             0.12, 0.14, 0.12, 0.11, 0.14, 0.12, 0.11, 0.12, 0.13, 0.12,
             0.11, 0.13, 0.12, 0.10, 0.12, 0.11, 0.10, 0.12, 0.11, 0.12,
             0.12, 0.11, 0.13, 0.11, 0.12, 0.10, 0.11, 0.12, 0.10, 0.11,
             0.11, 0.10, 0.12, 0.13, 0.11, 0.12, 0.14, 0.12, 0.13, 0.11,
             0.12, 0.14, 0.12, 0.16, 0.13, 0.12, 0.14, 0.12, 0.13, 0.12,
             0.14, 0.12, 0.13, 0.14, 0.12, 0.13, 0.12, 0.14, 0.15, 0.12,
             0.13, 0.12, 0.13, 0.14, 0.12, 0.13, 0.12, 0.13, 0.16, 0.13,
             0.12, 0.13, 0.12, 0.13, 0.14, 0.12, 0.14, 0.12, 0.13, 0.12,
             0.13, 0.14, 0.12, 0.11, 0.13, 0.12, 0.14, 0.12, 0.13, 0.12]
bc_d = [1.10, 1.00, 1.05, 1.08, 1.10, 0.95, 1.17, 1.12, 1.16, 1.00,
        1.10, 1.05, 1.18, 1.05, 1.02, 1.12, 1.08, 1.18, 1.15, 1.16,
        1.12, 1.15, 1.08, 1.15, 1.12, 1.18, 1.10, 1.05, 1.12, 1.15,
        1.06, 1.08, 1.05, 1.12, 1.15, 1.08, 1.12, 1.10, 1.06, 1.08,
        1.12, 1.08, 1.04, 1.10, 1.14, 1.08, 1.16, 1.12, 1.06, 1.18,
        1.10, 1.14, 1.07, 1.12, 1.16, 1.09, 1.13, 1.08, 1.15, 1.11,
        1.14, 1.08, 1.12, 1.16, 1.10, 1.13, 1.07, 1.15, 1.11, 1.18,
        1.09, 1.14, 1.12, 1.08, 1.16, 1.10, 1.13, 1.17, 1.09, 1.14,
        1.11, 1.16, 1.08, 1.13, 1.10, 1.15, 1.12, 1.09, 1.14, 1.11,
        1.16, 1.10, 1.13, 1.08, 1.15, 1.12, 1.09, 1.14, 1.11, 1.12]
bc_d_sd = [0.10, 0.09, 0.08, 0.09, 0.08, 0.10, 0.08, 0.09, 0.08, 0.10,
           0.08, 0.09, 0.08, 0.09, 0.10, 0.08, 0.09, 0.08, 0.09, 0.08,
           0.09, 0.08, 0.09, 0.08, 0.09, 0.08, 0.09, 0.10, 0.08, 0.09,
           0.08, 0.09, 0.10, 0.08, 0.09, 0.08, 0.09, 0.08, 0.09, 0.08,
           0.09, 0.08, 0.10, 0.09, 0.08, 0.09, 0.08, 0.09, 0.10, 0.08,
           0.09, 0.08, 0.09, 0.08, 0.09, 0.08, 0.09, 0.08, 0.09, 0.08,
           0.09, 0.08, 0.09, 0.08, 0.09, 0.08, 0.09, 0.08, 0.09, 0.08,
           0.09, 0.08, 0.09, 0.08, 0.09, 0.08, 0.09, 0.08, 0.09, 0.08,
           0.09, 0.08, 0.09, 0.08, 0.09, 0.08, 0.09, 0.08, 0.09, 0.08,
           0.09, 0.08, 0.09, 0.08, 0.09, 0.08, 0.09, 0.08, 0.09, 0.08]
crr_d = [0.40, 0.50, 0.65, 0.68, 0.82, 0.76, 0.84, 0.82, 0.87, 0.84,
         0.85, 0.88, 0.92, 0.87, 0.96, 0.95, 0.85, 0.90, 0.77, 0.88,
         0.92, 0.84, 0.95, 0.90, 0.85, 0.93, 0.90, 0.83, 0.88, 0.85,
         0.82, 0.80, 0.78, 0.85, 1.04, 1.00, 0.98, 1.00, 1.02, 0.95,
         0.97, 0.93, 0.97, 1.05, 1.00, 1.08, 1.02, 0.98, 1.06, 1.03,
         0.98, 1.04, 1.08, 1.00, 1.06, 1.02, 1.10, 0.99, 1.05, 1.08,
         1.03, 1.07, 0.99, 1.05, 1.09, 1.01, 1.06, 0.97, 1.04, 1.08,
         1.00, 1.06, 1.03, 1.09, 0.98, 1.05, 1.02, 1.07, 1.00, 1.04,
         1.06, 0.99, 1.04, 1.08, 1.01, 1.05, 0.98, 1.03, 1.07, 1.02,
         1.05, 1.00, 1.04, 1.08, 1.02, 1.06, 1.03, 1.05, 1.08, 1.07]
crr_d_sd = [0.15, 0.16, 0.18, 0.18, 0.16, 0.18, 0.17, 0.20, 0.16, 0.17,
            0.15, 0.14, 0.13, 0.14, 0.12, 0.12, 0.13, 0.12, 0.14, 0.12,
            0.12, 0.13, 0.12, 0.12, 0.13, 0.12, 0.12, 0.13, 0.12, 0.12,
            0.12, 0.12, 0.12, 0.12, 0.10, 0.10, 0.11, 0.10, 0.10, 0.11,
            0.10, 0.11, 0.10, 0.10, 0.11, 0.10, 0.10, 0.11, 0.10, 0.10,
            0.11, 0.10, 0.10, 0.11, 0.10, 0.11, 0.10, 0.11, 0.10, 0.10,
            0.11, 0.10, 0.11, 0.10, 0.10, 0.11, 0.10, 0.11, 0.10, 0.10,
            0.11, 0.10, 0.10, 0.11, 0.10, 0.11, 0.10, 0.10, 0.11, 0.10,
            0.10, 0.11, 0.10, 0.10, 0.11, 0.10, 0.11, 0.10, 0.10, 0.11,
            0.10, 0.11, 0.10, 0.10, 0.11, 0.10, 0.10, 0.11, 0.10, 0.10]

captions = ["(a)  halfcheetah-medium-expert-v2", "(b)  hopper-medium-expert-v2",
            "(c)  walker2d-medium-expert-v2", "(d)  ant-medium-expert-v2"]

panels = [
    ([ours_a, td3_a, plas_a, bc_a, crr_a], [ours_a_sd, td3_a_sd, plas_a_sd, bc_a_sd, crr_a_sd]),
    ([ours_b, td3_b, plas_b, bc_b, crr_b], [ours_b_sd, td3_b_sd, plas_b_sd, bc_b_sd, crr_b_sd]),
    ([ours_c, td3_c, plas_c, bc_c, crr_c], [ours_c_sd, td3_c_sd, plas_c_sd, bc_c_sd, crr_c_sd]),
    ([ours_d, td3_d, plas_d, bc_d, crr_d], [ours_d_sd, td3_d_sd, plas_d_sd, bc_d_sd, crr_d_sd]),
]

# layout (figure fractions) and y ranges
positions = [[0.0647, 0.6127, 0.4186, 0.381], [0.5844, 0.6127, 0.4141, 0.381],
             [0.0647, 0.1026, 0.4186, 0.3644], [0.5844, 0.1026, 0.4141, 0.3644]]
ylims = [(0.064, 0.993), (0.037, 1.176), (-0.062, 1.124), (0.058, 1.41)]
yticks = [[0.2, 0.4, 0.6, 0.8], [0.2, 0.4, 0.6, 0.8, 1.0],
          [0.0, 0.2, 0.4, 0.6, 0.8, 1.0], [0.2, 0.4, 0.6, 0.8, 1.0, 1.2, 1.4]]
caption_xy = [(0.189, 0.517), (0.600, 0.517), (0.188, 0.036), (0.604, 0.036)]

fig = plt.figure(figsize=(6.6, 7.41), dpi=100)
x = np.array(episodes)

for i, (means, sds) in enumerate(panels):
    ax = fig.add_axes(positions[i])
    for m, s, c, n in zip(means, sds, colors, names):
        m = np.array(m)
        s = np.array(s)
        ax.plot(x, m, color=c, lw=1.2, label=n)
        ax.fill_between(x, m - s, m + s, color=c, alpha=0.2, lw=0)
    ax.set_xlim(0, 99)
    ax.set_ylim(*ylims[i])
    ax.set_xticks([0, 20, 40, 60, 80])
    ax.set_yticks(yticks[i])
    ax.tick_params(labelsize=7.5, length=3, width=0.7)
    ax.grid(True, ls=':', color='#bbbbbb', lw=0.7)
    ax.set_axisbelow(True)
    for sp in ax.spines.values():
        sp.set_linewidth(0.8)
        sp.set_color('#333333')
    ax.set_xlabel('Episode', fontsize=8, labelpad=1)
    ax.set_ylabel('Return', fontsize=8, labelpad=2)
    ax.legend(loc='lower right', fontsize=6.3, handlelength=2.4, borderpad=0.5,
              labelspacing=0.5)
    fig.text(caption_xy[i][0], caption_xy[i][1], captions[i], ha='center', va='center',
             fontsize=12, family='Liberation Serif')

fig.savefig('out.png', dpi=100)
